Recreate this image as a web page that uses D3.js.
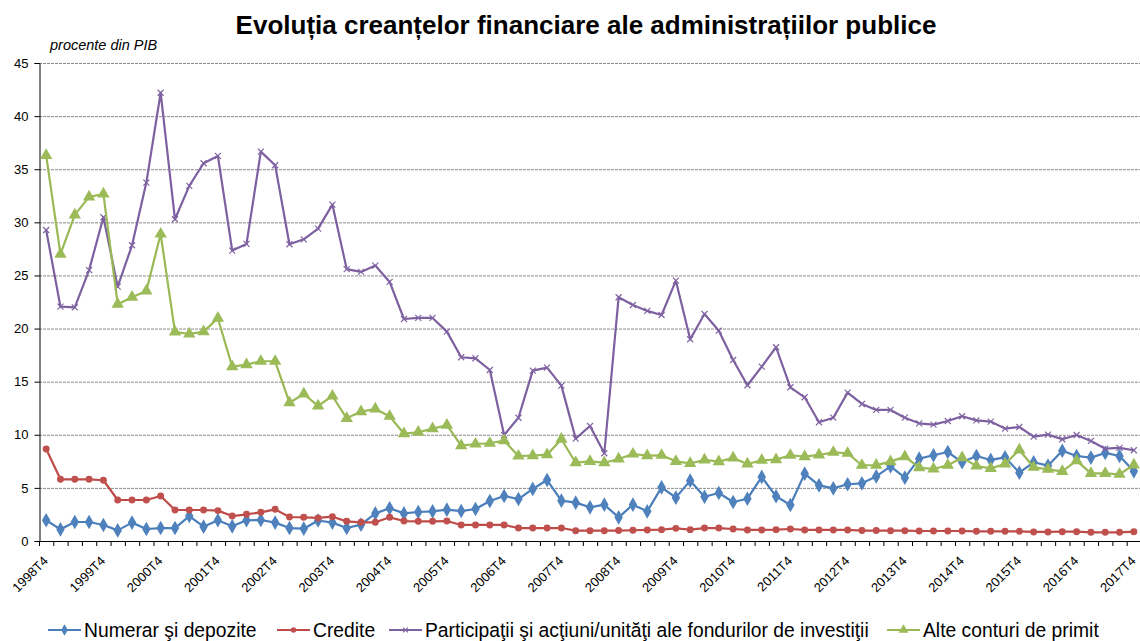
<!DOCTYPE html>
<html>
<head>
<meta charset="utf-8">
<script src="https://cdn.jsdelivr.net/npm/d3@7/dist/d3.min.js"></script>
<style>
html,body{margin:0;padding:0;background:#fff;}
svg{display:block;font-family:"Liberation Sans",Arial,sans-serif;}
</style>
</head>
<body>
<svg id="chart" width="1140" height="641"></svg>
<script>
// ---- Data ----
const years = d3.range(1998, 2018);
const quarters = ["T1","T2","T3","T4"];
const categories = [];
years.forEach(yr => quarters.forEach(q => { if (!(yr === 1998 && q !== "T4")) categories.push(yr + q); }));
const tickLabels = ["1998T4","1999T4","2000T4","2001T4","2002T4","2003T4","2004T4","2005T4","2006T4","2007T4","2008T4","2009T4","2010T4","2011T4","2012T4","2013T4","2014T4","2015T4","2016T4","2017T4"];
const yTicks = [0,5,10,15,20,25,30,35,40,45];

const numerar = [1.95,1.10,1.79,1.79,1.51,1.00,1.73,1.13,1.22,1.22, 2.35,1.35,1.95,1.38,1.95,1.98,1.73,1.22,1.16,1.93, 1.73,1.22,1.54,2.60,3.08,2.60,2.73,2.79,2.95,2.82, 3.01,3.77,4.24,3.95,4.90,5.74,3.80,3.61,3.17,3.42, 2.23,3.42,2.79,5.05,4.08,5.68,4.17,4.52,3.67,3.98, 6.03,4.21,3.39,6.34,5.24,4.96,5.34,5.43,6.08,7.03, 5.96,7.75,8.07,8.38,7.41,8.00,7.63,7.88,6.43,7.41, 7.09,8.50,8.00,7.85,8.29,8.00,6.56];
const credite = [8.66,5.81,5.81,5.81,5.72,3.86,3.86,3.86,4.24,2.92, 2.92,2.92,2.86,2.35,2.51,2.70,2.98,2.26,2.23,2.17, 2.29,1.85,1.76,1.76,2.23,1.88,1.85,1.85,1.88,1.51, 1.51,1.51,1.51,1.22,1.22,1.22,1.22,0.97,0.97,0.97, 0.98,1.01,1.04,1.07,1.19,1.07,1.22,1.22,1.13,1.04, 1.04,1.07,1.13,1.04,1.04,1.04,1.04,0.98,0.98,0.97, 0.97,0.94,0.94,0.94,0.94,0.91,0.91,0.91,0.91,0.85, 0.85,0.88,0.88,0.82,0.82,0.82,0.88];
const participatii = [29.28,22.06,22.00,25.50,30.48,23.95,27.84,33.74,42.20,30.29, 33.43,35.56,36.25,27.34,27.97,36.66,35.37,27.94,28.40,29.41, 31.67,25.60,25.33,25.93,24.39,20.90,21.00,21.00,19.71,17.30, 17.20,16.10,9.98,11.60,16.04,16.32,14.63,9.64,10.83,8.26, 22.95,22.22,21.66,21.28,24.51,18.99,21.37,19.80,17.04,14.66, 16.41,18.24,14.47,13.53,11.18,11.61,13.97,12.90,12.34,12.34, 11.61,11.08,10.95,11.30,11.74,11.36,11.24,10.58,10.73,9.82, 10.01,9.58,9.98,9.42,8.69,8.76,8.54];
const alte = [36.3,27.0,30.7,32.4,32.67,22.29,22.95,23.54,28.9,19.68, 19.49,19.71,20.97,16.41,16.6,16.92,16.92,13.02,13.84,12.72, 13.65,11.55,12.18,12.43,11.74,10.1,10.24,10.58,10.9,8.98, 9.13,9.2,9.45,8.0,8.03,8.13,9.58,7.37,7.5,7.37, 7.72,8.19,8.03,8.07,7.5,7.31,7.63,7.47,7.82,7.25, 7.6,7.66,8.07,7.94,8.1,8.35,8.26,7.13,7.14,7.47, 7.94,6.9,6.78,7.13,7.85,7.06,6.84,7.25,8.57,6.94, 6.75,6.56,7.56,6.37,6.37,6.28,7.16];

const seriesNames = ["Numerar şi depozite","Credite","Participaţii şi acţiuni/unităţi ale fondurilor de investiţii","Alte conturi de primit"];
const chartTitle = "Evoluția creanțelor financiare ale administrațiilor publice";
const unitLabel = "procente din PIB";

(function () {
// ---- Layout ----
const svg = d3.select("#chart");
const pLeft = 39, pRight = 1141, pTop = 63, pBottom = 541;

const x = d3.scaleBand().domain(categories).range([pLeft, pRight]).padding(0);
const y = d3.scaleLinear().domain([0, 45]).range([pBottom, pTop]);
const cx = c => x(c) + x.bandwidth() / 2;

const series = [
  {name: seriesNames[0], values: numerar, line: "#4A7EBB", fill: "#4F81BD", symbol: d3.symbolDiamond, size: 62, kind: "sym"},
  {name: seriesNames[1], values: credite, line: "#BE4B48", fill: "#C0504D", symbol: d3.symbolCircle, size: 38, kind: "sym"},
  {name: seriesNames[2], values: participatii, line: "#7D60A0", fill: "#8064A2", kind: "x"},
  {name: seriesNames[3], values: alte, line: "#98B954", fill: "#9BBB59", symbol: d3.symbolTriangle, size: 66, kind: "sym"}
];

// Title
svg.append("text").attr("x", 586).attr("y", 34).attr("text-anchor", "middle")
  .attr("font-size", 26).attr("font-weight", "bold").attr("fill", "#000").text(chartTitle);
svg.append("text").attr("x", 50).attr("y", 50).attr("font-size", 14.5).attr("font-style", "italic")
  .attr("fill", "#000").text(unitLabel);

// Gridlines
svg.append("g").selectAll("line").data(yTicks.filter(t => t > 0)).join("line")
  .attr("x1", pLeft).attr("x2", pRight).attr("y1", d => y(d) + 0.5).attr("y2", d => y(d) + 0.5)
  .attr("stroke", "#8a8a8a").attr("stroke-width", 1).attr("stroke-dasharray", "3,1");

// Y axis
const yAxis = svg.append("g").attr("transform", `translate(${pLeft + 0.5},0)`)
  .call(d3.axisLeft(y).tickValues(yTicks).tickSize(5).tickPadding(6).tickFormat(d3.format("d")));
yAxis.select(".domain").attr("stroke", "#000");
yAxis.selectAll(".tick line").attr("stroke", "#000");
yAxis.selectAll("text").attr("font-size", 13).attr("fill", "#000").attr("font-family", "Liberation Sans, Arial, sans-serif");

// X axis line + ticks at category boundaries
svg.append("line").attr("x1", pLeft).attr("x2", pRight).attr("y1", pBottom + 0.5).attr("y2", pBottom + 0.5)
  .attr("stroke", "#000").attr("stroke-width", 1);
svg.append("g").selectAll("line").data(categories.concat([null])).join("line")
  .attr("x1", d => (d === null ? pRight : x(d)) + 0.5).attr("x2", d => (d === null ? pRight : x(d)) + 0.5)
  .attr("y1", pBottom).attr("y2", pBottom + 5).attr("stroke", "#000").attr("stroke-width", 1);

// X labels
svg.append("g").selectAll("text").data(tickLabels).join("text")
  .attr("transform", d => `translate(${cx(d) - 0.5},${pBottom + 17.5}) rotate(-45)`)
  .attr("text-anchor", "end").attr("dy", "0.35em").attr("font-size", 13).attr("fill", "#000").text(d => d);

// Series
const lineGen = d3.line().x((d, i) => cx(categories[i])).y(d => y(d));
function drawMarker(g, s, px, py, scale) {
  if (s.kind === "x") {
    const r = 3 * scale;
    g.append("path").attr("d", `M${px - r},${py - r}L${px + r},${py + r}M${px - r},${py + r}L${px + r},${py - r}`)
      .attr("stroke", s.fill).attr("stroke-width", 1.2).attr("fill", "none");
  } else {
    g.append("path").attr("d", d3.symbol().type(s.symbol).size(s.size * scale * scale)())
      .attr("transform", `translate(${px},${py})`).attr("fill", s.fill).attr("stroke", "none");
  }
}
series.forEach(s => {
  const g = svg.append("g");
  g.append("path").datum(s.values).attr("d", lineGen).attr("fill", "none")
    .attr("stroke", s.line).attr("stroke-width", 2.2).attr("stroke-linejoin", "round");
  s.values.forEach((v, i) => drawMarker(g, s, cx(categories[i]), y(v), 1));
});

// Legend
const legendX = [48, 277, 389, 887];
const lg = svg.append("g");
series.forEach((s, i) => {
  const lx = legendX[i], ly = 630;
  lg.append("line").attr("x1", lx).attr("x2", lx + 33).attr("y1", ly).attr("y2", ly)
    .attr("stroke", s.line).attr("stroke-width", 2.2);
  drawMarker(lg, s, lx + 16.5, ly, 0.8);
  lg.append("text").attr("x", lx + 36).attr("y", 637).attr("font-size", 19.3).attr("fill", "#000").text(s.name);
});
})();
</script>
</body>
</html>
